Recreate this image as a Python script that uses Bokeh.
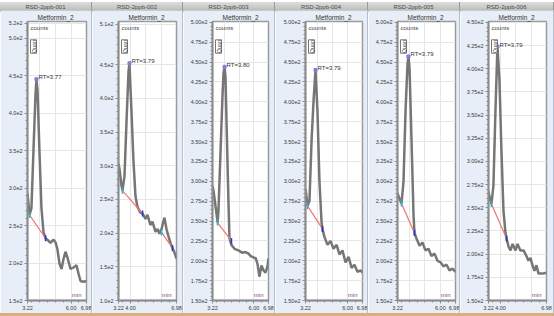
import numpy as np
from bokeh.plotting import figure
from bokeh.models import Div, Label, FixedTicker, Range1d
from bokeh.layouts import row, column
from bokeh.embed import file_html
from bokeh.resources import INLINE

FONT = "Liberation Sans"

# ---------------- data ----------------
sample_titles = ["RSD-2ppb-001", "RSD-2ppb-002", "RSD-2ppb-003",
                 "RSD-2ppb-004", "RSD-2ppb-005", "RSD-2ppb-006"]
compound_name = "Metformin_2"
rt_labels = ["RT=3.77", "RT=3.79", "RT=3.80", "RT=3.79", "RT=3.79", "RT=3.79"]

p1_time = [3.22, 3.28, 3.35, 3.47, 3.60, 3.73, 3.79, 3.86, 3.98, 4.11, 4.24, 4.37, 4.49, 4.68,
           4.88, 5.00, 5.13, 5.26, 5.39, 5.51, 5.64, 5.77, 5.96, 6.15, 6.34, 6.47, 6.60, 6.79, 6.98]
p1_counts = [293, 280, 264, 273, 350, 425, 445, 430, 350, 273, 241, 233, 231, 227,
             231, 228, 218, 199, 192, 205, 215, 207, 192, 194, 197, 186, 176, 175, 176]
p1_base_time = [3.35, 4.37]
p1_base_counts = [264, 233]

p2_time = [3.22, 3.28, 3.41, 3.48, 3.61, 3.74, 3.87, 3.93, 4.06, 4.19, 4.32, 4.45, 4.65, 4.78,
           4.97, 5.10, 5.29, 5.42, 5.62, 5.75, 5.88, 6.01, 6.14, 6.20, 6.33, 6.46, 6.65, 6.72,
           6.85, 6.98]
p2_counts = [303, 296, 271, 263, 285, 366, 440, 452, 381, 307, 255, 239, 230, 229,
             221, 227, 212, 217, 202, 206, 199, 206, 218, 223, 206, 195, 181, 178,
             171, 162]
p2_base_time = [3.48, 4.78]
p2_base_counts = [263, 229]
p2_base2_time = [6.01, 6.72]
p2_base2_counts = [201, 178]

p3_time = [3.22, 3.29, 3.42, 3.49, 3.56, 3.62, 3.76, 3.89, 3.96, 4.03, 4.09, 4.16, 4.29, 4.36,
           4.49, 4.70, 4.96, 5.23, 5.43, 5.64, 5.77, 5.90, 6.04, 6.11, 6.24, 6.37, 6.51, 6.64,
           6.78, 6.91, 6.98]
p3_counts = [294, 288, 269, 259, 248, 263, 338, 407, 436, 444, 432, 376, 275, 228,
             220, 215, 213, 210, 211, 209, 206, 205, 203, 204, 196, 180, 194, 188,
             185, 193, 203]
p3_base_time = [3.56, 4.49]
p3_base_counts = [248, 225]

p4_time = [3.22, 3.29, 3.35, 3.48, 3.62, 3.75, 3.88, 4.01, 4.14, 4.28, 4.34, 4.47, 4.67, 4.87,
           5.07, 5.27, 5.46, 5.66, 5.86, 6.06, 6.26, 6.45, 6.65, 6.85, 6.98]
p4_counts = [290, 280, 269, 275, 351, 401, 440, 388, 300, 248, 240, 230, 220, 225,
             215, 220, 208, 213, 198, 205, 191, 195, 186, 188, 185]
p4_base_time = [3.35, 4.34]
p4_base_counts = [269, 240]

p5_time = [3.22, 3.35, 3.48, 3.61, 3.74, 3.87, 3.93, 4.00, 4.13, 4.26, 4.32, 4.45, 4.65, 4.84,
           5.03, 5.23, 5.42, 5.62, 5.81, 6.01, 6.20, 6.40, 6.59, 6.78, 6.98]
p5_counts = [285, 278, 272, 300, 388, 448, 457, 442, 351, 257, 235, 228, 219, 223,
             213, 215, 206, 209, 200, 198, 193, 195, 188, 190, 186]
p5_base_time = [3.48, 4.32]
p5_base_counts = [272, 235]

p6_time = [3.22, 3.28, 3.41, 3.54, 3.67, 3.80, 3.93, 4.06, 4.19, 4.32, 4.39, 4.52, 4.65, 4.78,
           4.97, 5.10, 5.29, 5.49, 5.68, 5.81, 5.94, 6.07, 6.20, 6.33, 6.46, 6.72, 6.98]
p6_counts = [268, 262, 254, 274, 354, 424, 388, 311, 247, 223, 217, 208, 204, 211,
             204, 211, 204, 204, 198, 193, 196, 188, 182, 188, 179, 179, 180]
p6_base_time = [3.41, 4.39]
p6_base_counts = [254, 217]

y_limits = [(150, 522), (100, 514), (150, 501), (150, 501), (150, 501), (150, 451)]
y_tick_values = [
    [150, 200, 250, 300, 350, 400, 450, 500, 520],
    [100, 150, 200, 250, 300, 350, 400, 450, 510],
    list(range(150, 501, 25)),
    list(range(150, 501, 25)),
    list(range(150, 501, 25)),
    list(range(150, 451, 25)),
]
y_tick_labels = [
    ["1.5e2", "2.0e2", "2.5e2", "3.0e2", "3.5e2", "4.0e2", "4.5e2", "5.0e2", "5.2e2"],
    ["1.0e2", "1.5e2", "2.0e2", "2.5e2", "3.0e2", "3.5e2", "4.0e2", "4.5e2", "5.1e2"],
    ["1.50e2", "1.75e2", "2.00e2", "2.25e2", "2.50e2", "2.75e2", "3.00e2", "3.25e2",
     "3.50e2", "3.75e2", "4.00e2", "4.25e2", "4.50e2", "4.75e2", "5.00e2"],
    ["1.50e2", "1.75e2", "2.00e2", "2.25e2", "2.50e2", "2.75e2", "3.00e2", "3.25e2",
     "3.50e2", "3.75e2", "4.00e2", "4.25e2", "4.50e2", "4.75e2", "5.00e2"],
    ["1.50e2", "1.75e2", "2.00e2", "2.25e2", "2.50e2", "2.75e2", "3.00e2", "3.25e2",
     "3.50e2", "3.75e2", "4.00e2", "4.25e2", "4.50e2", "4.75e2", "5.00e2"],
    ["1.50e2", "1.75e2", "2.00e2", "2.25e2", "2.50e2", "2.75e2", "3.00e2", "3.25e2",
     "3.50e2", "3.75e2", "4.00e2", "4.25e2", "4.50e2"],
]
x_limits = (3.22, 6.98)
x_tick_values = [[3.22, 6.00, 6.98], [3.22, 4.00, 6.98], [3.22, 6.00, 6.98],
                 [3.22, 6.00, 6.98], [3.22, 6.00, 6.98], [3.22, 4.00, 6.98]]
x_tick_labels = [["3.22", "6.00", "6.98"], ["3.22", "4.00", "6.98"], ["3.22", "6.00", "6.98"],
                 ["3.22", "6.00", "6.98"], ["3.22", "6.00", "6.98"], ["3.22", "4.00", "6.98"]]

series = [
    (p1_time, p1_counts, [(p1_base_time, p1_base_counts)]),
    (p2_time, p2_counts, [(p2_base_time, p2_base_counts), (p2_base2_time, p2_base2_counts)]),
    (p3_time, p3_counts, [(p3_base_time, p3_base_counts)]),
    (p4_time, p4_counts, [(p4_base_time, p4_base_counts)]),
    (p5_time, p5_counts, [(p5_base_time, p5_base_counts)]),
    (p6_time, p6_counts, [(p6_base_time, p6_base_counts)]),
]

# ---------------- layout / style ----------------
panel_widths = [92, 91, 92, 93, 92, 94]
border_left = [27, 26, 29, 30, 29, 28]
border_right = [6, 7, 7, 6, 5, 8]
PANEL_BG = "#e8eef7"
LINE_C = "#767676"
AXIS_C = "#8c8c8c"

headers = []
panels = []
for i in range(6):
    w = panel_widths[i]
    t, v, baselines = series[i]
    y0, y1 = y_limits[i]

    hdr = Div(text=(f'<div style="width:{w}px;height:10px;line-height:10px;font-size:6px;'
                    f'text-align:center;color:#4a4a4a;font-family:{FONT};'
                    f'background:linear-gradient(#dedede,#b6b6b6);box-sizing:border-box;'
                    f'border-right:1px solid #999;overflow:hidden;">{sample_titles[i]}</div>'),
              width=w, height=10, margin=0)
    headers.append(hdr)

    p = figure(width=w - 1, height=303, x_range=Range1d(*x_limits), y_range=Range1d(y0, y1),
               output_backend="svg", toolbar_location=None,
               min_border_left=border_left[i], min_border_right=border_right[i] - 1,
               min_border_top=11, min_border_bottom=13)
    p.background_fill_color = "white"
    p.border_fill_color = PANEL_BG
    p.outline_line_color = "#9a9a9a"
    p.outline_line_width = 1.5

    p.title.text = compound_name
    p.title.align = "left"
    p.title.offset = 10
    p.title.standoff = 1
    p.title.text_font = FONT
    p.title.text_font_size = "6.5px"
    p.title.text_font_style = "normal"
    p.title.text_color = "#333333"

    yt = y_tick_values[i]
    step = (yt[1] - yt[0]) / 5.0
    p.yaxis.ticker = FixedTicker(ticks=yt, minor_ticks=list(np.arange(y0, y1 + 0.01, step)))
    p.yaxis.major_label_overrides = {float(k): s for k, s in zip(yt, y_tick_labels[i])}
    p.yaxis.major_label_overrides.update({int(k): s for k, s in zip(yt, y_tick_labels[i])})
    p.xaxis.ticker = FixedTicker(ticks=x_tick_values[i],
                                 minor_ticks=list(np.arange(3.5, 6.99, 0.5)))
    p.xaxis.major_label_overrides = {float(k): s for k, s in zip(x_tick_values[i], x_tick_labels[i])}

    for ax in (p.xaxis, p.yaxis):
        ax.axis_line_color = AXIS_C
        ax.axis_line_width = 2
        ax.major_tick_line_color = AXIS_C
        ax.minor_tick_line_color = AXIS_C
        ax.major_tick_in = 0
        ax.major_tick_out = 3
        ax.minor_tick_in = 0
        ax.minor_tick_out = 2
        ax.major_label_text_font = FONT
        ax.major_label_text_font_size = "5.5px"
        ax.major_label_text_color = "#3a3a3a"
        ax.major_label_standoff = 2

    p.ygrid.ticker = FixedTicker(ticks=yt)
    p.xgrid.ticker = FixedTicker(ticks=[4.0, 5.0, 6.0])
    p.grid.grid_line_color = "#e6e6e6"

    p.line(t, v, line_color=LINE_C, line_width=2.5)
    for bt, bv in baselines:
        p.line(bt, bv, line_color="#f07878", line_width=1.3)
        p.scatter([bt[0]], [bv[0]], marker="dash", angle=np.pi / 2, size=6,
                  line_color="#30b0c8", line_width=1.6)
        p.scatter([bt[1]], [bv[1]], marker="dash", angle=np.pi / 2, size=6,
                  line_color="#2838c8", line_width=1.6)

    k = int(np.argmax(v))
    p.scatter([t[k]], [v[k]], marker="square", size=3, fill_color="#8a7ad8",
              line_color="#8a7ad8")

    p.add_layout(Label(x=x_limits[0], y=y1, x_offset=3, y_offset=-3, text="counts",
                       text_font=FONT, text_font_size="6px", text_color="#444444",
                       text_baseline="top"))
    p.add_layout(Label(x=x_limits[0], y=y1, x_offset=6, y_offset=-25, text="Quan",
                       angle=90, angle_units="deg", text_align="center",
                       text_baseline="middle", text_font=FONT, text_font_size="5.5px",
                       text_color="#444444", border_line_color="#777777",
                       background_fill_color="white"))
    p.add_layout(Label(x=t[k], y=v[k], x_offset=2, y_offset=-1, text=rt_labels[i],
                       text_font=FONT, text_font_size="6px", text_color="#333333",
                       text_baseline="bottom"))
    p.add_layout(Label(x=x_limits[1], y=y0, x_offset=-5, y_offset=3, text="min",
                       text_font=FONT, text_font_size="6px", text_color="#7a4a7a",
                       text_align="right", text_baseline="bottom"))

    sep = Div(text="", width=1, height=303, margin=0,
              styles={"background-color": "#b4bfcc"})
    panels.append(row(p, sep, spacing=0))

bottom = Div(text="", width=554, height=3, margin=0, styles={"background-color": "#d8b07c"})
layout = column(row(*headers, spacing=0), row(*panels, spacing=0), bottom, spacing=0)

open("out.html", "w").write(file_html(layout, INLINE))
